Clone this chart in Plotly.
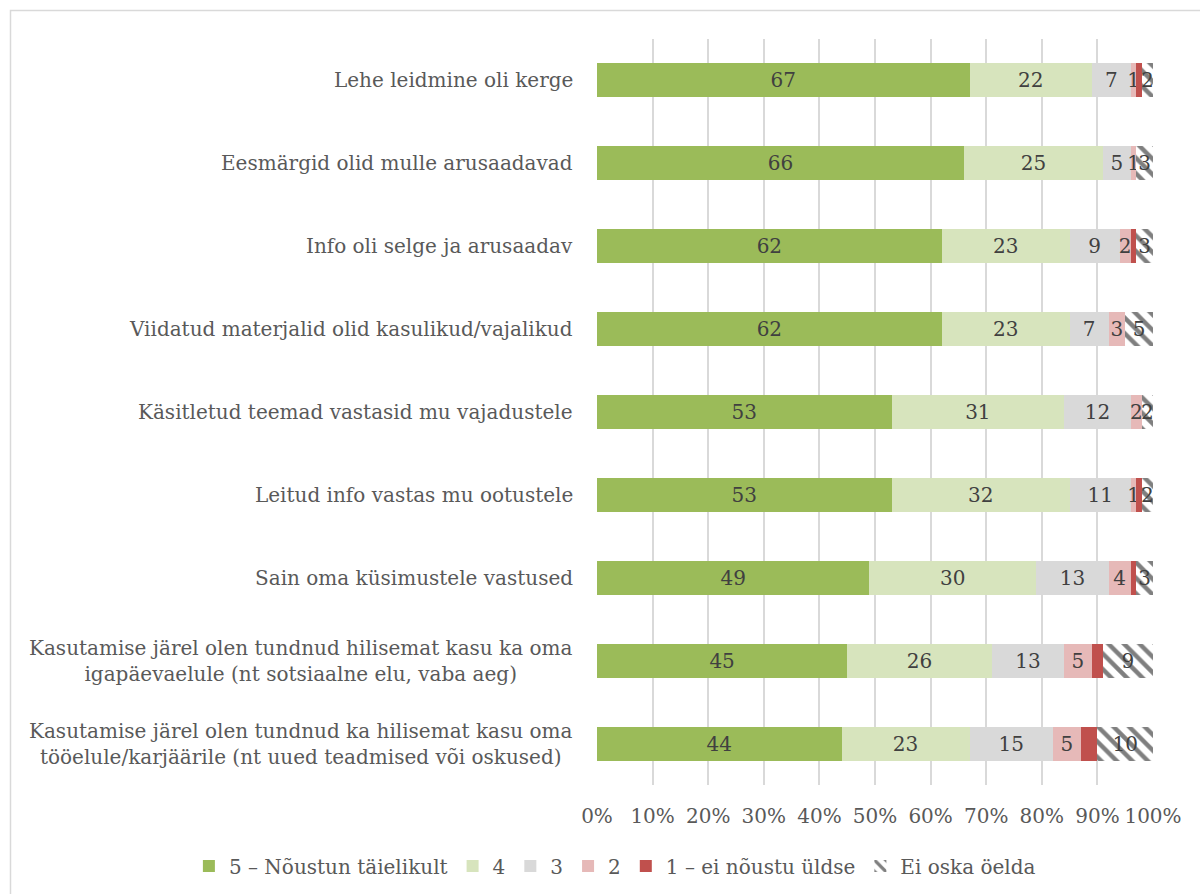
import plotly.graph_objects as go

# Survey statements (top to bottom)
statements = [
    "Lehe leidmine oli kerge",
    "Eesmärgid olid mulle arusaadavad",
    "Info oli selge ja arusaadav",
    "Viidatud materjalid olid kasulikud/vajalikud",
    "Käsitletud teemad vastasid mu vajadustele",
    "Leitud info vastas mu ootustele",
    "Sain oma küsimustele vastused",
    "Kasutamise järel olen tundnud hilisemat kasu ka oma<br>igapäevaelule (nt sotsiaalne elu, vaba aeg)",
    "Kasutamise järel olen tundnud ka hilisemat kasu oma<br>tööelule/karjäärile (nt uued teadmised või oskused)",
]

# Share of answers per statement, %
agree5 = [67, 66, 62, 62, 53, 53, 49, 45, 44]
agree4 = [22, 25, 23, 23, 31, 32, 30, 26, 23]
neutral3 = [7, 5, 9, 7, 12, 11, 13, 13, 15]
disagree2 = [1, 1, 2, 3, 2, 1, 4, 5, 5]
disagree1 = [1, 0, 1, 0, 0, 1, 1, 2, 3]
dont_know = [2, 3, 3, 5, 2, 2, 3, 9, 10]

tick_vals = [0, 10, 20, 30, 40, 50, 60, 70, 80, 90, 100]
tick_text = ["0%", "10%", "20%", "30%", "40%", "50%", "60%", "70%", "80%", "90%", "100%"]

FONT = "DejaVu Serif"
LABEL_COLOR = "#404040"
AXIS_COLOR = "#595959"
FS = 20

series = [
    ("5 – Nõustun täielikult", agree5, "#9BBB59", True, None),
    ("4", agree4, "#D7E4BD", True, None),
    ("3", neutral3, "#D9D9D9", True, None),
    ("2", disagree2, "#E6B9B8", True, None),
    ("1 – ei nõustu üldse", disagree1, "#C0504D", False, None),
    ("Ei oska öelda", dont_know, "#FFFFFF", True, "\\"),
]

fig = go.Figure()
for name, vals, color, labelled, pattern in series:
    text = [str(v) if (labelled and v > 0) else "" for v in vals]
    marker = dict(color=color, line=dict(width=0))
    if pattern:
        marker["pattern"] = dict(shape=pattern, fgcolor="#7F7F7F", bgcolor="#FFFFFF",
                                 size=11, solidity=0.4, fillmode="replace")
    fig.add_trace(go.Bar(
        y=statements, x=vals, name=name, orientation="h",
        marker=marker, text=text, textposition="inside",
        insidetextanchor="middle", textangle=0, constraintext="none",
        textfont=dict(family=FONT, size=FS, color=LABEL_COLOR),
        hoverinfo="skip",
    ))

# Category labels, centred line by line, right of the plot area edge
for s in statements:
    fig.add_annotation(
        x=0, xref="paper", xshift=-22, y=s, yref="y",
        text=s, showarrow=False, xanchor="right", yanchor="middle",
        align="center", font=dict(family=FONT, size=FS, color=AXIS_COLOR),
    )

# Outer chart frame
fig.add_shape(type="rect", xref="paper", yref="paper",
              x0=-586.5 / 556, x1=(1210 - 597) / 556,
              y0=(785 - 905) / 746, y1=(785 - 10.5) / 746,
              line=dict(color="#D9D9D9", width=1.5), fillcolor="rgba(0,0,0,0)", layer="below")

fig.update_layout(
    width=1200, height=894,
    margin=dict(l=597, r=47, t=39, b=109, autoexpand=False),
    barmode="stack", bargap=0.59,
    paper_bgcolor="white", plot_bgcolor="white",
    font=dict(family=FONT, size=FS, color=AXIS_COLOR),
    uniformtext=dict(minsize=FS, mode="show"),
    showlegend=True,
    legend=dict(orientation="h", x=-0.734, xanchor="left", y=-0.1086, yanchor="middle",
                font=dict(family=FONT, size=FS, color=AXIS_COLOR),
                bgcolor="rgba(0,0,0,0)",
                traceorder="normal", itemwidth=30, tracegroupgap=0),
    xaxis=dict(range=[0, 100], tickvals=tick_vals, ticktext=tick_text,
               showgrid=True, gridcolor="#D9D9D9", gridwidth=1.5,
               zeroline=False, showline=False, ticks="",
               ticklabelstandoff=17,
               tickfont=dict(family=FONT, size=FS, color=AXIS_COLOR)),
    yaxis=dict(categoryorder="array", categoryarray=statements, autorange="reversed",
               showticklabels=False, showgrid=False, zeroline=False, showline=False),
)

fig.write_html("out.html")
